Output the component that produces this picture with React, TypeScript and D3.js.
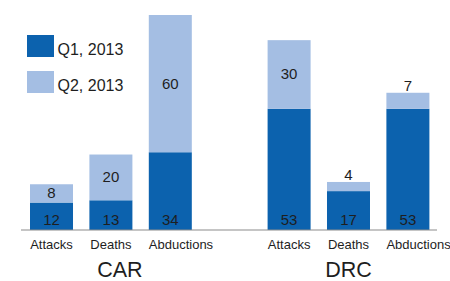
import { useEffect, useRef } from "react";
import * as d3 from "d3";

const regions = ["CAR", "DRC"];
const categories = ["Attacks", "Deaths", "Abductions"];
const q1Values = [
  [12, 13, 34], // CAR
  [53, 17, 53], // DRC
];
const q2Values = [
  [8, 20, 60],
  [30, 4, 7],
];
const seriesNames = ["Q1, 2013", "Q2, 2013"];
const yMax = 94;

const W = 450;
const H = 281;
const DARK = "#0c62ae";
const LIGHT = "#a4bee3";
const FONT = "'Liberation Sans', Arial, Helvetica, sans-serif";

export default function App() {
  const svgRef = useRef<SVGSVGElement | null>(null);

  useEffect(() => {
    document.body.style.margin = "0";
    if (!svgRef.current) return;
    const svg = d3.select(svgRef.current);
    svg.selectAll("*").remove();

    // one slot per bar, with an empty slot between the two regions
    const keys: string[] = [];
    regions.forEach((r, i) => {
      if (i > 0) keys.push("gap");
      categories.forEach((c) => keys.push(`${r}-${c}`));
    });

    const x = d3
      .scaleBand<string>()
      .domain(keys)
      .range([30, 429.4])
      .paddingInner(0.276)
      .paddingOuter(0);
    const y = d3.scaleLinear().domain([0, yMax]).range([230, 15]);
    const bw = x.bandwidth();

    const rows = regions.flatMap((r, ri) =>
      categories.map((c, ci) => ({
        region: r,
        cat: c,
        key: `${r}-${c}`,
        q1: q1Values[ri][ci],
        q2: q2Values[ri][ci],
      }))
    );

    const g = svg.append("g");

    // Q1 bars
    g.selectAll("rect.q1")
      .data(rows)
      .enter()
      .append("rect")
      .attr("x", (d) => x(d.key)!)
      .attr("width", bw)
      .attr("y", (d) => y(d.q1))
      .attr("height", (d) => y(0) - y(d.q1))
      .attr("fill", DARK);

    // Q2 bars stacked on top
    g.selectAll("rect.q2")
      .data(rows)
      .enter()
      .append("rect")
      .attr("x", (d) => x(d.key)!)
      .attr("width", bw)
      .attr("y", (d) => y(d.q1 + d.q2))
      .attr("height", (d) => y(d.q1) - y(d.q1 + d.q2))
      .attr("fill", LIGHT);

    // axis line
    g.append("line")
      .attr("x1", 21)
      .attr("x2", 437)
      .attr("y1", y(0))
      .attr("y2", y(0))
      .attr("stroke", "#8c8c8c")
      .attr("stroke-width", 1.2);

    // Q1 value labels near the base
    g.selectAll("text.q1")
      .data(rows)
      .enter()
      .append("text")
      .attr("x", (d) => x(d.key)! + bw / 2)
      .attr("y", y(0) - 5)
      .attr("text-anchor", "middle")
      .style("font", `15px ${FONT}`)
      .style("fill", "#1e1e1e")
      .text((d) => d.q1);

    // Q2 value labels: inside the segment, or above it when it is thin
    g.selectAll("text.q2")
      .data(rows)
      .enter()
      .append("text")
      .attr("x", (d) => x(d.key)! + bw / 2)
      .attr("y", (d) => {
        const top = y(d.q1 + d.q2);
        const bot = y(d.q1);
        if (bot - top > 17) return (top + bot) / 2 + 5;
        return top - 2;
      })
      .attr("text-anchor", "middle")
      .style("font", `15px ${FONT}`)
      .style("fill", "#1e1e1e")
      .text((d) => d.q2);

    // category labels; long ones start at the bar's left edge
    g.selectAll("text.cat")
      .data(rows)
      .enter()
      .append("text")
      .attr("y", 248.5)
      .style("font", `13px ${FONT}`)
      .style("fill", "#1e1e1e")
      .text((d) => d.cat)
      .each(function (d) {
        const el = this as SVGTextElement;
        const tw = el.getComputedTextLength();
        const cx = x(d.key)! + bw / 2;
        const left = Math.max(cx - tw / 2, x(d.key)!);
        d3.select(el).attr("x", left);
      });

    // region labels
    g.selectAll("text.region")
      .data(regions)
      .enter()
      .append("text")
      .attr("x", (r) => {
        const first = x(`${r}-${categories[0]}`)!;
        const last = x(`${r}-${categories[categories.length - 1]}`)! + bw;
        return (first + last) / 2 + (r === "CAR" ? 9 : 0);
      })
      .attr("y", 276.5)
      .attr("text-anchor", "middle")
      .style("font", `21.5px ${FONT}`)
      .style("fill", "#1e1e1e")
      .text((r) => r);

    // legend
    const legend = svg.append("g");
    const items = legend
      .selectAll("g")
      .data(seriesNames)
      .enter()
      .append("g")
      .attr("transform", (_d, i) => `translate(27, ${35 + i * 36})`);
    items
      .append("rect")
      .attr("width", 27)
      .attr("height", 22)
      .attr("fill", (_d, i) => (i === 0 ? DARK : LIGHT));
    items
      .append("text")
      .attr("x", 30.5)
      .attr("y", 19.5)
      .style("font", `16px ${FONT}`)
      .style("fill", "#1e1e1e")
      .text((d) => d);
  }, []);

  return <svg ref={svgRef} width={W} height={H} style={{ display: "block", background: "#fff" }} />;
}
